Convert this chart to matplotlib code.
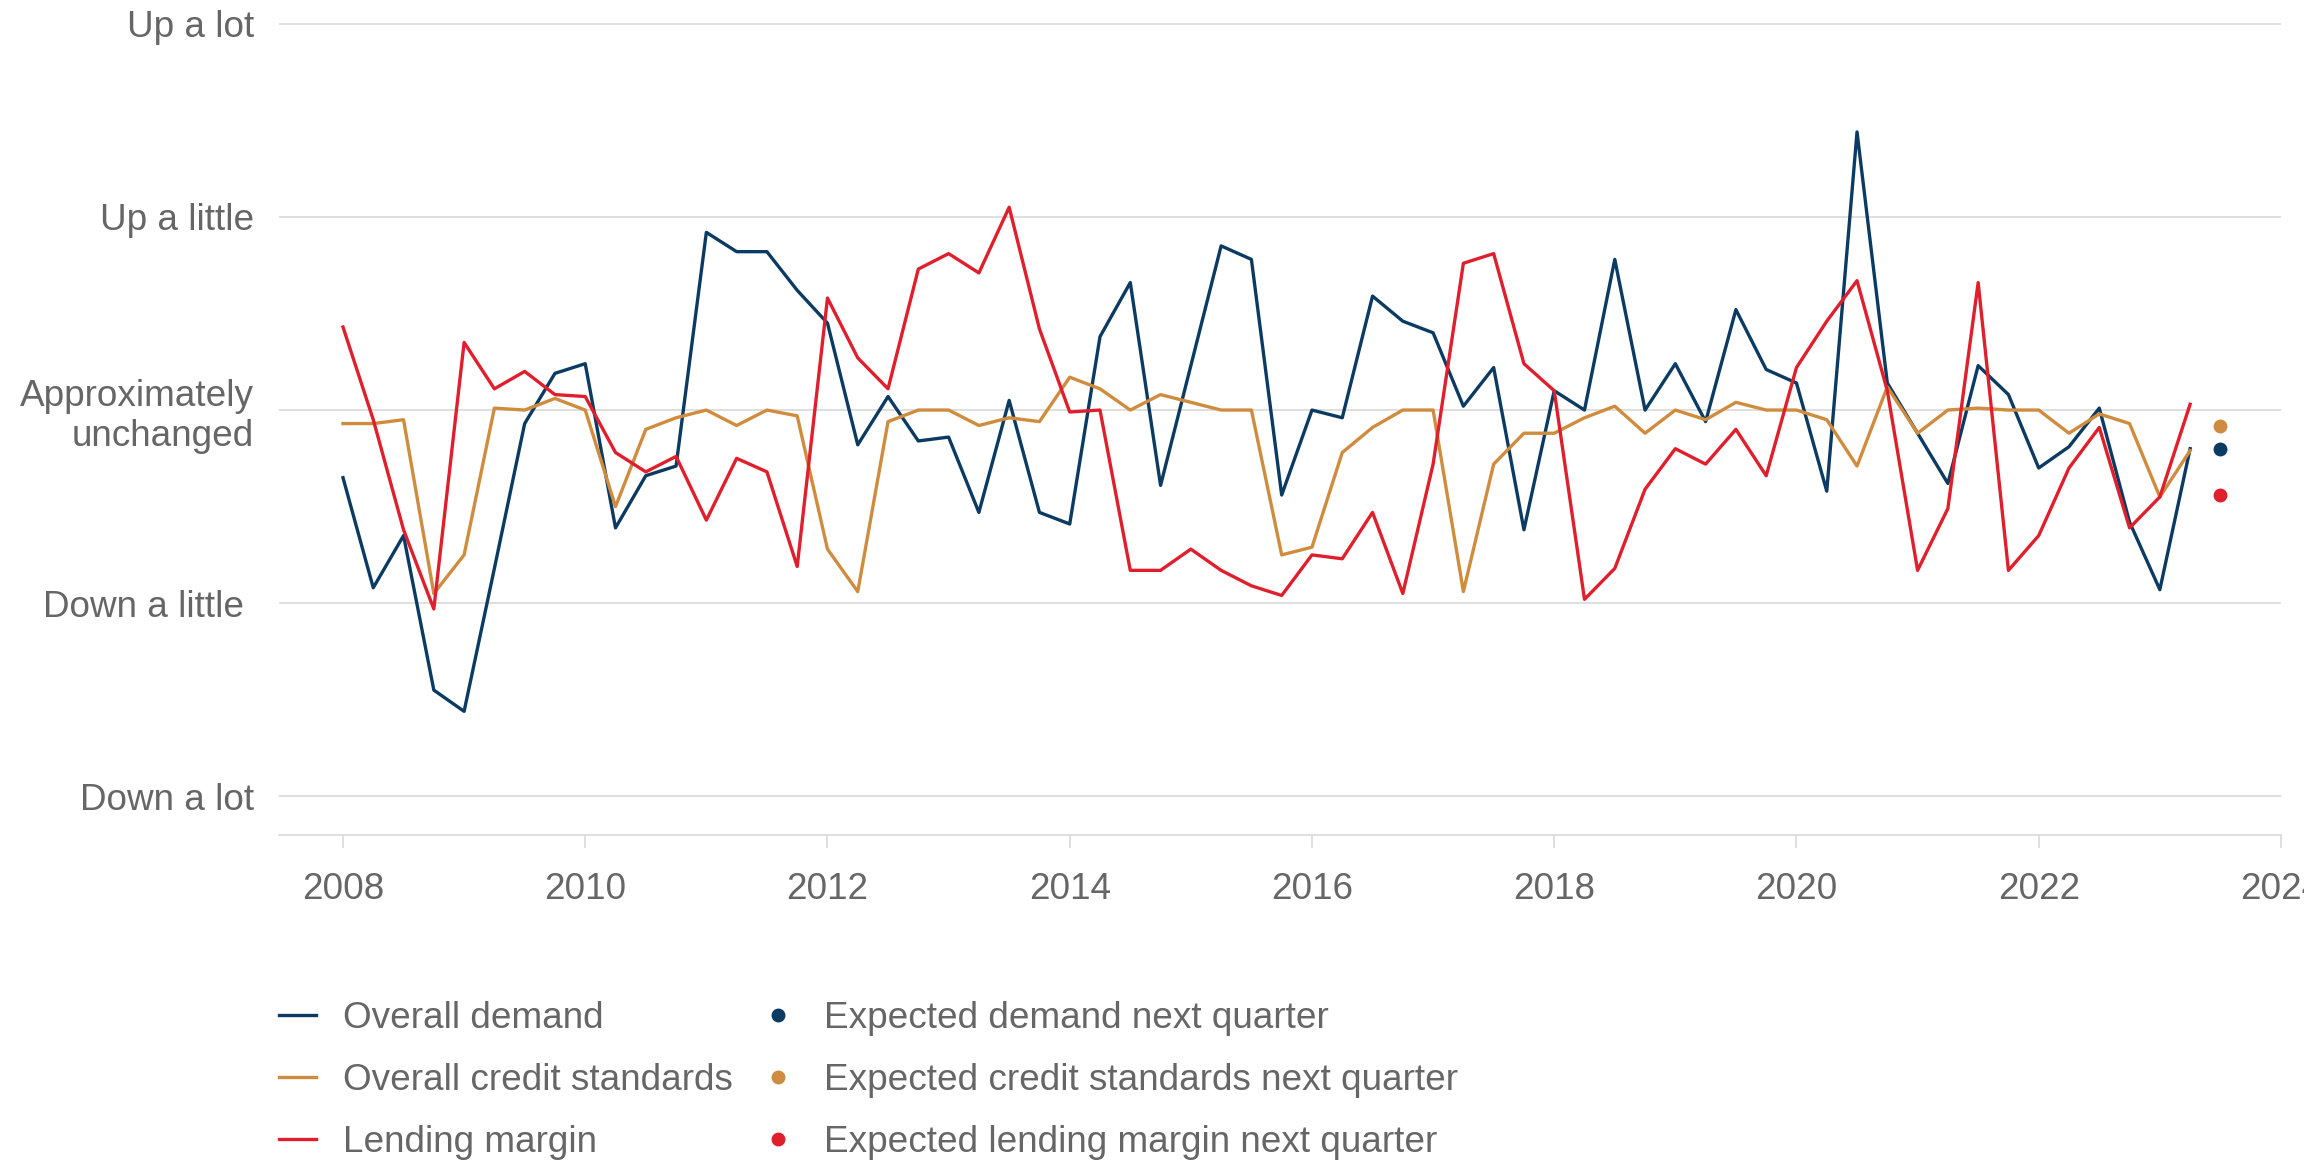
import matplotlib
matplotlib.use("Agg")
import matplotlib.pyplot as plt
import pandas as pd
from matplotlib.lines import Line2D

plt.rcParams['font.family'] = ['Liberation Sans', 'DejaVu Sans']

# quarterly survey balances, 2008Q1 - 2023Q2
quarters = pd.period_range('2008Q1', '2023Q2', freq='Q')

overall_demand = [
    -0.35, -0.92, -0.65, -1.45, -1.56, -0.82, -0.07, 0.19, 0.24, -0.61, -0.34, -0.29,
    0.92, 0.82, 0.82, 0.62, 0.45, -0.18, 0.07, -0.16, -0.14, -0.53, 0.05, -0.53,
    -0.59, 0.38, 0.66, -0.39, 0.23, 0.85, 0.78, -0.44, 0.00, -0.04, 0.59, 0.46,
    0.40, 0.02, 0.22, -0.62, 0.10, 0.00, 0.78, 0.00, 0.24, -0.06, 0.52, 0.21,
    0.14, -0.42, 1.44, 0.14, -0.12, -0.38, 0.23, 0.08, -0.30, -0.19, 0.01, -0.58,
    -0.93, -0.20,
]
credit_standards = [
    -0.07, -0.07, -0.05, -0.95, -0.75, 0.01, 0.00, 0.06, 0.00, -0.50, -0.10, -0.04,
    0.00, -0.08, 0.00, -0.03, -0.72, -0.94, -0.06, 0.00, 0.00, -0.08, -0.04, -0.06,
    0.17, 0.11, 0.00, 0.08, 0.04, 0.00, 0.00, -0.75, -0.71, -0.22, -0.09, 0.00,
    0.00, -0.94, -0.28, -0.12, -0.12, -0.04, 0.02, -0.12, 0.00, -0.05, 0.04, 0.00,
    0.00, -0.05, -0.29, 0.12, -0.12, 0.00, 0.01, 0.00, 0.00, -0.12, -0.02, -0.07,
    -0.45, -0.21,
]
lending_margin = [
    0.43, -0.05, -0.62, -1.03, 0.35, 0.11, 0.20, 0.08, 0.07, -0.22, -0.32, -0.24,
    -0.57, -0.25, -0.32, -0.81, 0.58, 0.27, 0.11, 0.73, 0.81, 0.71, 1.05, 0.42,
    -0.01, 0.00, -0.83, -0.83, -0.72, -0.83, -0.91, -0.96, -0.75, -0.77, -0.53, -0.95,
    -0.28, 0.76, 0.81, 0.24, 0.10, -0.98, -0.82, -0.41, -0.20, -0.28, -0.10, -0.34,
    0.22, 0.46, 0.67, 0.10, -0.83, -0.51, 0.66, -0.83, -0.65, -0.30, -0.09, -0.61,
    -0.45, 0.03,
]

# expectations for 2023Q3
expected_quarter = pd.Period('2023Q3', freq='Q')
expected_demand = -0.20
expected_credit = -0.08
expected_margin = -0.44

y_labels = ['Down a lot', 'Down a little ', 'Approximately\nunchanged', 'Up a little', 'Up a lot']

navy = '#0B3A62'
orange = '#D08C3E'
red = '#E01F2D'
grey_text = '#666666'
grid_col = '#D9D9D9'


def to_year(p):
    return p.year + (p.quarter - 1) / 4


x = [to_year(p) for p in quarters]
x_exp = to_year(expected_quarter)

fig = plt.figure(figsize=(11.52, 5.88), dpi=200)
ax = fig.add_axes([0.121, 0.29, 0.869, 0.698])

ax.plot(x, overall_demand, color=navy, lw=1.2)
ax.plot(x, credit_standards, color=orange, lw=1.2)
ax.plot(x, lending_margin, color=red, lw=1.2)
ax.plot([x_exp], [expected_credit], 'o', color=orange, ms=4)
ax.plot([x_exp], [expected_demand], 'o', color=navy, ms=4)
ax.plot([x_exp], [expected_margin], 'o', color=red, ms=4)

ax.set_xlim(2007.47, 2024.0)
ax.set_ylim(-2.2, 2.05)
ax.set_yticks([-2, -1, 0, 1, 2])
ax.set_yticklabels(y_labels, ha='right', multialignment='right')
ax.set_xticks(range(2008, 2025, 2))

ax.grid(axis='y', color=grid_col, lw=0.6)
ax.set_axisbelow(True)
for s in ['top', 'right', 'left']:
    ax.spines[s].set_visible(False)
ax.spines['bottom'].set_color(grid_col)
ax.spines['bottom'].set_linewidth(0.6)

ax.tick_params(axis='y', length=0, pad=9, labelsize=13.3, labelcolor=grey_text)
ax.tick_params(axis='x', length=4.5, width=0.6, color=grid_col, pad=9,
               labelsize=13.3, labelcolor=grey_text)
for lbl in ax.get_xticklabels():
    lbl.set_clip_on(False)

handles = [
    Line2D([], [], color=navy, lw=1.2),
    Line2D([], [], color=orange, lw=1.2),
    Line2D([], [], color=red, lw=1.2),
    Line2D([], [], color=navy, marker='o', ls='none', ms=4),
    Line2D([], [], color=orange, marker='o', ls='none', ms=4),
    Line2D([], [], color=red, marker='o', ls='none', ms=4),
]
labels = ['Overall demand', 'Overall credit standards', 'Lending margin',
          'Expected demand next quarter', 'Expected credit standards next quarter',
          'Expected lending margin next quarter']
leg = fig.legend(handles, labels, ncol=2, loc='upper left',
                 bbox_to_anchor=(0.121, 0.149), frameon=False, fontsize=13.3,
                 handlelength=1.0, handletextpad=0.75, columnspacing=0.7,
                 labelspacing=0.73, borderpad=0, borderaxespad=0)
for t in leg.get_texts():
    t.set_color(grey_text)

fig.savefig('out.png', dpi=200)
